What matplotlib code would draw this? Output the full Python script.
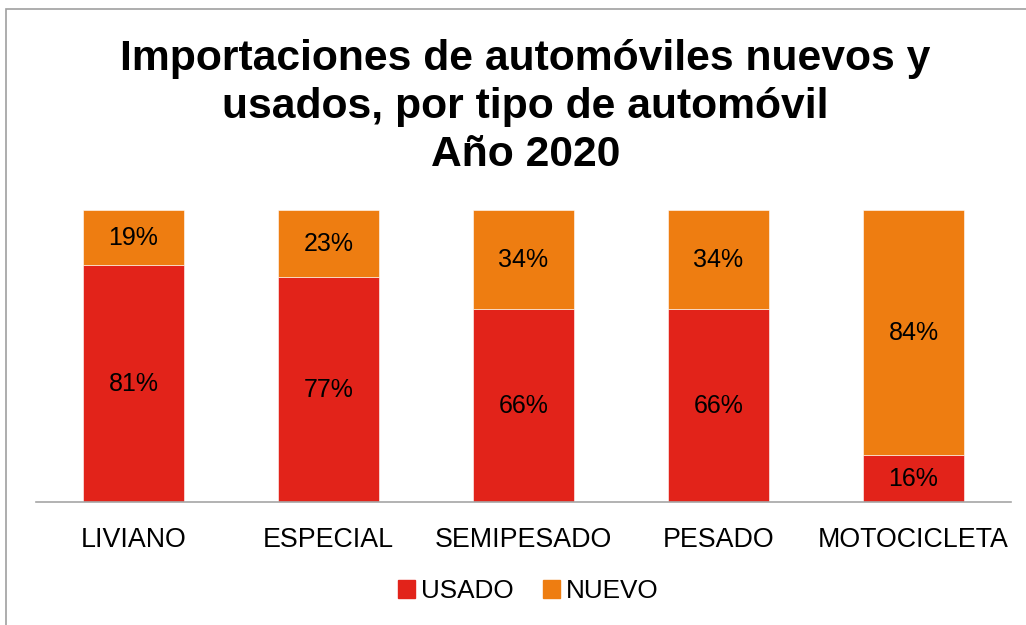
import matplotlib.pyplot as plt
from matplotlib.patches import Rectangle, Patch

plt.rcParams['font.family'] = ['Liberation Sans', 'DejaVu Sans']

categorias = ['LIVIANO', 'ESPECIAL', 'SEMIPESADO', 'PESADO', 'MOTOCICLETA']
usado = [81, 77, 66, 66, 16]
nuevo = [19, 23, 34, 34, 84]

rojo = '#E2231A'
naranja = '#EE7D11'

fig = plt.figure(figsize=(10.26, 6.25), dpi=100)
ax = fig.add_axes([36 / 1026, 123 / 625, 975 / 1026, 292 / 625])

x = range(len(categorias))
ax.bar(x, usado, width=0.513, color=rojo, edgecolor='white', linewidth=0.4)
ax.bar(x, nuevo, width=0.513, bottom=usado, color=naranja, edgecolor='white', linewidth=0.4)

for i in x:
    ax.text(i, usado[i] / 2, f'{usado[i]}%', ha='center', va='center', fontsize=18)
    ax.text(i, usado[i] + nuevo[i] / 2, f'{nuevo[i]}%', ha='center', va='center', fontsize=18)

ax.set_xlim(-0.5, len(categorias) - 0.5)
ax.set_ylim(0, 100)
ax.set_xticks(list(x))
ax.set_xticklabels(categorias, fontsize=19.3)
ax.tick_params(axis='x', length=0, pad=18)
ax.set_yticks([])
for s in ['top', 'right', 'left']:
    ax.spines[s].set_visible(False)
ax.spines['bottom'].set_color('#A6A6A6')
ax.spines['bottom'].set_linewidth(1.2)

fig.text(0.512, 0.829, 'Importaciones de automóviles nuevos y\nusados, por tipo de automóvil\nAño 2020',
         ha='center', va='center', fontsize=30.7, fontweight='bold', linespacing=1.26)

handles = [Patch(color=rojo, label='USADO'), Patch(color=naranja, label='NUEVO')]
fig.legend(handles=handles, loc='center', bbox_to_anchor=(0.515, 0.054), ncol=2, frameon=False,
           fontsize=18.8, handlelength=0.65, handleheight=0.65, handletextpad=0.25, columnspacing=1.1)

fig.patches.append(Rectangle((6 / 1026, -0.1), 1.2, (616 + 62.5) / 625, transform=fig.transFigure,
                             fill=False, edgecolor='#A0A0A0', linewidth=1.2))

fig.savefig('out.png', dpi=100)
